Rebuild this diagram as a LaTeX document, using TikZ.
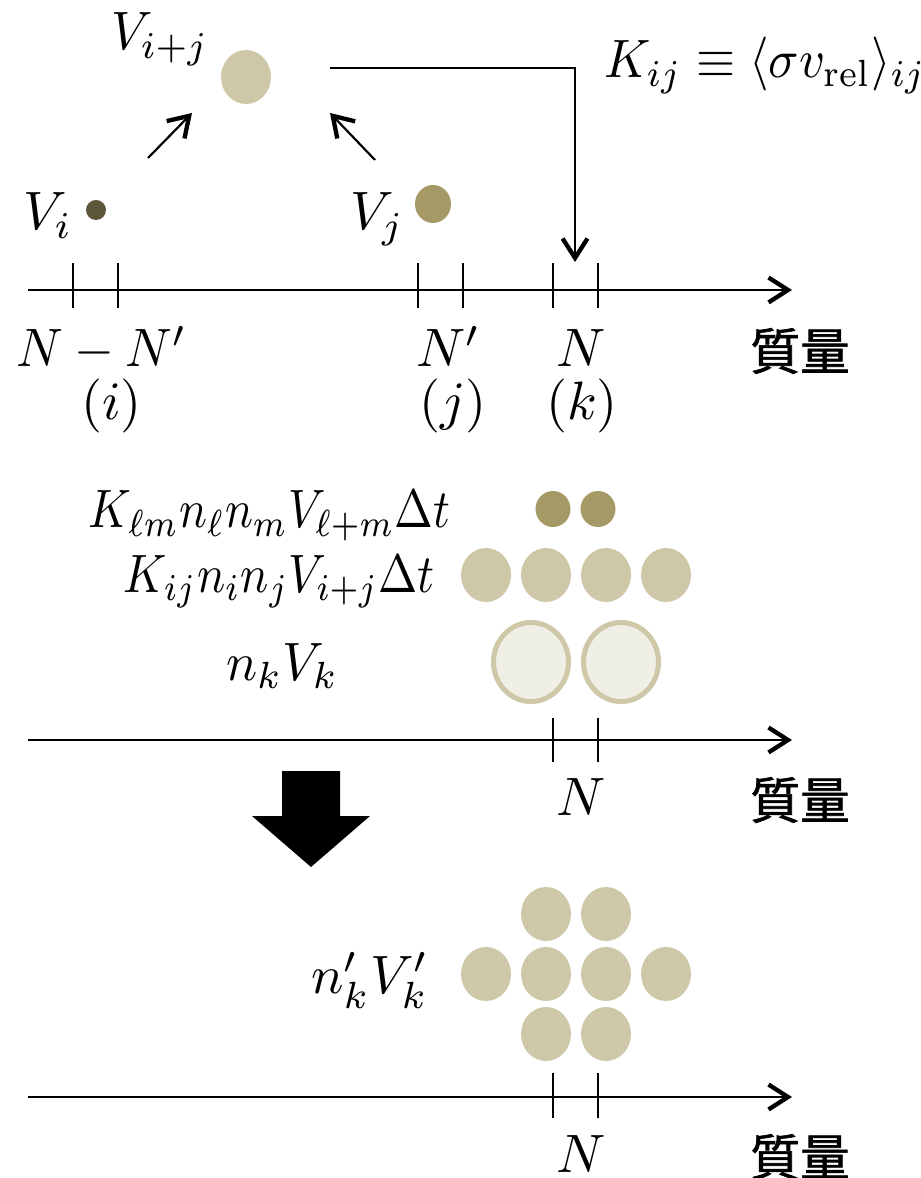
\documentclass[tikz,border=0pt]{standalone}
\usepackage{amsmath,amssymb}
\usepackage{fontspec}
\newfontfamily\jpfont[FakeBold=1.3]{Noto Sans CJK JP}
\usetikzlibrary{arrows.meta}
\definecolor{khaki}{RGB}{206,200,168}
\definecolor{olive}{RGB}{165,154,102}
\definecolor{darkolive}{RGB}{93,86,56}
\definecolor{pale}{RGB}{239,239,230}
\tikzset{
  >={Straight Barb[length=3.6pt,width=4.6pt,line width=0.8pt]},
  lab/.style={inner sep=0pt,anchor=base west},
  squeeze/.style={xscale=#1,transform shape},
  mass/.style={inner sep=0pt,font=\jpfont\fontsize{9.2pt}{11pt}\selectfont}
}

\begin{document}
\begin{tikzpicture}[x=0.185pt,y=-0.185pt]
\useasboundingbox (0,0) rectangle (920,1178);
% axes
\foreach \y/\n in {290/a,740/b,1097/c} {
  \coordinate (\n0) at (28,\y);
  \coordinate (\n1) at (792,\y);
  \draw[->] (\n0) -- (\n1);
}
\foreach \x in {73,118,418,463,553,598} {
  \draw (\x,263) -- (\x,308);
}
\foreach \x in {553,598} {
  \draw (\x,718) -- (\x,762);
  \draw (\x,1073) -- (\x,1118);
}
\node[mass] (m1) at (800,351) {質量};
\node[mass] (m2) at (800,800) {質量};
\node[mass] (m3) at (800,1157) {質量};

% coagulation
\fill[khaki] (246,77) ellipse [x radius=25,y radius=27];
\fill[darkolive] (96,210) ellipse [x radius=10,y radius=10];
\fill[olive] (433,204) ellipse [x radius=18,y radius=19];
\node[lab,squeeze=0.95] (vij) at (110,50) {$V_{i+j}$};
\node[lab] (vi) at (22,230) {$V_i$};
\node[lab] (vj) at (349,230) {$V_j$};
\coordinate (pi) at (148,158);
\coordinate (pij) at (192,113);
\coordinate (pj) at (375,160);
\coordinate (pji) at (330,113);
\draw[->] (pi) -- (pij);
\draw[->] (pj) -- (pji);
\coordinate (ks) at (330,68);
\coordinate (ke) at (575,262);
\draw[->] (ks) -| (ke);
\node[lab,squeeze=0.93] (kij) at (603,78) {$K_{ij}\equiv\langle\sigma v_{\mathrm{rel}}\rangle_{ij}$};

\node[lab,squeeze=0.95] (nn) at (15,367) {$N-N'$};
\node[lab] (np) at (415,367) {$N'$};
\node[lab] (n1) at (555,367) {$N$};
\node[lab] (li) at (80,420) {$(i)$};
\node[lab] (lj) at (418,420) {$(j)$};
\node[lab] (lk) at (545,420) {$(k)$};

% before
\node[lab,squeeze=0.86] (loss) at (88,528) {$K_{\ell m}n_\ell n_m V_{\ell+m}\Delta t$};
\node[lab,squeeze=0.87] (gain) at (123,592) {$K_{ij}n_in_jV_{i+j}\Delta t$};
\node[lab,squeeze=0.96] (old) at (225,680) {$n_kV_k$};
\foreach \x in {553,598} \fill[olive] (\x,509) ellipse [x radius=17.5,y radius=18];
\foreach \x in {486,546,606,666} \fill[khaki] (\x,575) ellipse [x radius=25,y radius=27];
\foreach \x in {531,621} \draw[khaki,line width=0.93pt,fill=pale] (\x,662) ellipse [x radius=37.5,y radius=39.5];
\node[lab] (n2) at (555,815) {$N$};

% step
\fill (282,771) -- (340,771) -- (340,816) -- (370,816) -- (311,867) -- (252,816) -- (282,816) -- cycle;

% after
\node[lab] (new) at (310,993) {$n'_kV'_k$};
\foreach \x in {546,606} {
  \fill[khaki] (\x,914) ellipse [x radius=25,y radius=27];
  \fill[khaki] (\x,1034) ellipse [x radius=25,y radius=27];
}
\foreach \x in {486,546,606,666} \fill[khaki] (\x,974) ellipse [x radius=25,y radius=27];
\node[lab] (n3) at (555,1172) {$N$};
\end{tikzpicture}
\end{document}
